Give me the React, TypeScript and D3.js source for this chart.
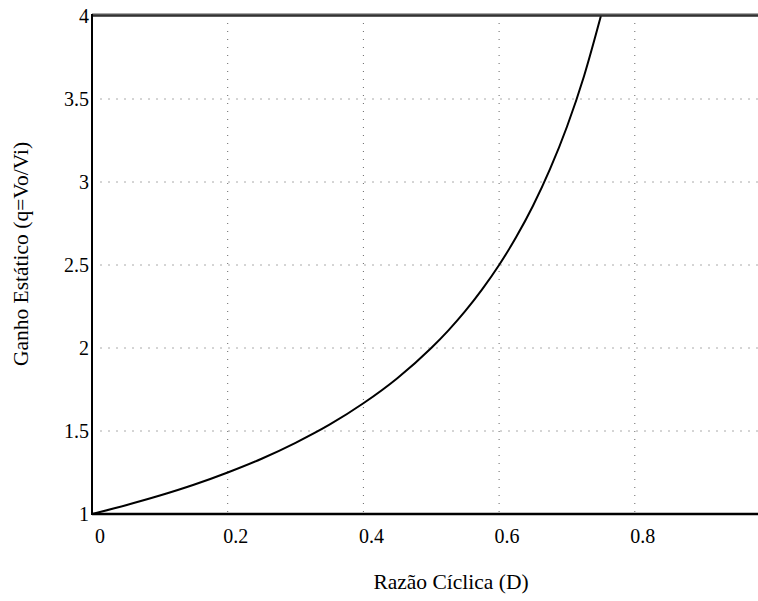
import React from 'react'
import * as d3 from 'd3'

// duty cycle D and static gain
const dutyCycle = [0, 0.05, 0.1, 0.15, 0.2, 0.25, 0.3, 0.35, 0.4, 0.45, 0.5, 0.525, 0.55, 0.575, 0.6, 0.625, 0.65, 0.675, 0.7, 0.725, 0.75]
const gain = [1, 1.053, 1.111, 1.176, 1.25, 1.333, 1.429, 1.538, 1.667, 1.818, 2.0, 2.105, 2.222, 2.353, 2.5, 2.667, 2.857, 3.077, 3.333, 3.636, 4.0]

const xTicks = [0, 0.2, 0.4, 0.6, 0.8]
const yTicks = [1, 1.5, 2, 2.5, 3, 3.5, 4]

const xLabel = 'Razão Cíclica (D)'
const yLabel = 'Ganho Estático (q=Vo/Vi)'

const FONT = "'Liberation Serif', Tinos, 'Times New Roman', 'DejaVu Serif', serif"

export default function App() {
  const width = 758
  const height = 601
  const margin = { top: 16, right: 0, bottom: 87, left: 92 }
  const plotW = width - margin.left - margin.right
  const plotH = height - margin.top - margin.bottom

  const x = d3.scaleLinear().domain([0, 0.2]).range([0, 135.7])
  const y = d3.scaleLinear().domain([1, 4]).range([plotH, 0])

  const points = dutyCycle.map((d, i) => [d, gain[i]] as [number, number])
  const line = d3.line<[number, number]>()
    .x(d => x(d[0]))
    .y(d => y(d[1]))
    .curve(d3.curveMonotoneX)

  const txt = { fontFamily: FONT, fill: '#000' }

  return (
    <svg width={width} height={height} style={{ position: 'absolute', left: 0, top: 0, background: '#fff' }}>
      <defs>
        <clipPath id="plot-clip">
          <rect x={0} y={-1} width={plotW} height={plotH + 2} />
        </clipPath>
      </defs>
      <g transform={`translate(${margin.left}, ${margin.top})`}>
        {/* grid */}
        {yTicks.filter(t => t > 1 && t < 4).map(t => (
          <line key={`gy${t}`} x1={8} x2={plotW} y1={y(t)} y2={y(t)}
            stroke="#aaa" strokeWidth={1} strokeDasharray="2,6" />
        ))}
        {xTicks.filter(t => t > 0).map(t => (
          <line key={`gx${t}`} x1={x(t)} x2={x(t)} y1={7} y2={plotH}
            stroke="#666" strokeWidth={1} strokeDasharray="1,7" />
        ))}

        {/* curve */}
        <path d={line(points) || ''} fill="none" stroke="#000" strokeWidth={2} clipPath="url(#plot-clip)" />

        {/* axes frame */}
        <line x1={0} x2={plotW} y1={-1} y2={-1} stroke="#555" strokeWidth={3} />
        <line x1={0} x2={plotW} y1={0} y2={0} stroke="#111" strokeWidth={1} />
        <line x1={0} x2={0} y1={-2} y2={plotH + 1} stroke="#000" strokeWidth={2} />
        <line x1={0} x2={plotW} y1={plotH} y2={plotH} stroke="#000" strokeWidth={2.5} />

        {/* tick labels */}
        {xTicks.map(t => (
          <text key={`tx${t}`} x={x(t) + 8} y={plotH + 29} textAnchor="middle" fontSize={20} style={txt}>
            {t.toString()}
          </text>
        ))}
        {yTicks.map(t => (
          <text key={`ty${t}`} x={-3} y={y(t) + 7} textAnchor="end" fontSize={20} style={txt}>
            {t.toString()}
          </text>
        ))}
      </g>

      {/* axis titles */}
      <text x={451} y={589} textAnchor="middle" fontSize={21.5} style={txt}>{xLabel}</text>
      <text transform="translate(28, 254) rotate(-90)" textAnchor="middle" fontSize={21.5} style={txt}>{yLabel}</text>
    </svg>
  )
}
